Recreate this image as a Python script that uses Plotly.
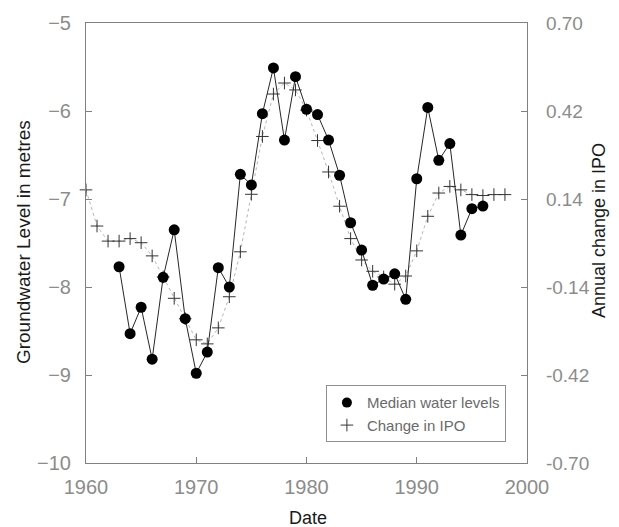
import plotly.graph_objects as go

# Median groundwater level (m)
median_years = list(range(1963, 1997))
median_levels = [-7.77, -8.53, -8.23, -8.82, -7.89, -7.35, -8.36, -8.98, -8.74, -7.78,
                 -8.00, -6.72, -6.84, -6.03, -5.51, -6.33, -5.61, -5.98, -6.04, -6.33,
                 -6.73, -7.27, -7.58, -7.98, -7.91, -7.85, -8.14, -6.77, -5.96, -6.56,
                 -6.37, -7.41, -7.11, -7.08]

# Annual change in IPO
ipo_years = list(range(1960, 1999))
ipo_values = [0.169, 0.054, 0.006, 0.006, 0.014, 0.001, -0.041, -0.108, -0.176, -0.241,
              -0.308, -0.321, -0.270, -0.171, -0.028, 0.155, 0.339, 0.474, 0.509, 0.487,
              0.423, 0.326, 0.226, 0.117, 0.014, -0.054, -0.090, -0.108, -0.131, -0.105,
              -0.025, 0.085, 0.159, 0.180, 0.169, 0.154, 0.151, 0.154, 0.154]

y_ticks = [-10, -9, -8, -7, -6, -5]
y2_ticks = [-0.70, -0.42, -0.14, 0.14, 0.42, 0.70]
y2_labels = ["-0.70", "-0.42", "-0.14", "0.14", "0.42", "0.70"]
x_ticks = [1960, 1970, 1980, 1990, 2000]

FONT = "Liberation Sans"
TICKCOL = "#8c8c8c"
AXCOL = "#808080"
TITLECOL = "#1a1a1a"

fig = go.Figure()

# IPO on primary y (right side) so that median dots draw on top
fig.add_trace(go.Scatter(
    x=ipo_years, y=ipo_values, yaxis="y", mode="lines+markers",
    line=dict(color="#b5b5b5", width=1, dash="dot"),
    marker=dict(symbol="cross-thin", size=9, line=dict(color="#333333", width=1)),
    cliponaxis=False, showlegend=False))

fig.add_trace(go.Scatter(
    x=median_years, y=median_levels, yaxis="y2", mode="lines+markers",
    line=dict(color="#262626", width=1),
    marker=dict(symbol="circle", size=11, color="black"),
    cliponaxis=False, showlegend=False))

# legend entries (marker only)
fig.add_trace(go.Scatter(x=[None], y=[None], mode="markers", name="Median water levels",
                         marker=dict(symbol="circle", size=10, color="black")))
fig.add_trace(go.Scatter(x=[None], y=[None], mode="markers", name="Change in IPO",
                         marker=dict(symbol="cross-thin", size=9,
                                     line=dict(color="#333333", width=1))))

fig.update_layout(
    width=619, height=527,
    margin=dict(l=86, r=92, t=21, b=64),
    paper_bgcolor="white", plot_bgcolor="white",
    font=dict(family=FONT, color="black"),
    xaxis=dict(range=[1960, 2000], tickvals=x_ticks, ticks="inside", ticklen=6,
               tickcolor=AXCOL, showline=True, linecolor=AXCOL, linewidth=1.3,
               mirror=True, showgrid=False, zeroline=False,
               tickfont=dict(size=20, color=TICKCOL), ticklabelstandoff=6),
    yaxis=dict(range=[-0.70, 0.70], tickvals=y2_ticks, ticktext=y2_labels,
               side="right", ticks="inside", ticklen=6, tickcolor=AXCOL,
               showline=True, linecolor=AXCOL, linewidth=1.3, mirror=True,
               showgrid=False, zeroline=False,
               tickfont=dict(size=19, color=TICKCOL), ticklabelstandoff=14),
    yaxis2=dict(range=[-10, -5], tickvals=y_ticks, overlaying="y", side="left",
                ticks="inside", ticklen=6, tickcolor=AXCOL, showline=False,
                showgrid=False, zeroline=False,
                tickfont=dict(size=20, color=TICKCOL), ticklabelstandoff=14),
    legend=dict(x=0.544, y=0.1765, xanchor="left", yanchor="top",
                bordercolor="#909090", borderwidth=1, bgcolor="white",
                font=dict(size=15, color="#6a6a6a"), itemwidth=30, tracegroupgap=0),
    annotations=[
        dict(text="Groundwater Level in metres", xref="paper", yref="paper",
             x=-0.1429, y=0.502, xanchor="center", yanchor="middle", textangle=-90,
             showarrow=False, font=dict(size=19, color=TITLECOL)),
        dict(text="Annual change in IPO", xref="paper", yref="paper",
             x=1.163, y=0.529, xanchor="center", yanchor="middle", textangle=-90,
             showarrow=False, font=dict(size=18, color=TITLECOL)),
        dict(text="Date", xref="paper", yref="paper",
             x=0.503, y=-0.1244, xanchor="center", yanchor="middle",
             showarrow=False, font=dict(size=18, color=TITLECOL)),
    ],
)

fig.write_html("out.html")
